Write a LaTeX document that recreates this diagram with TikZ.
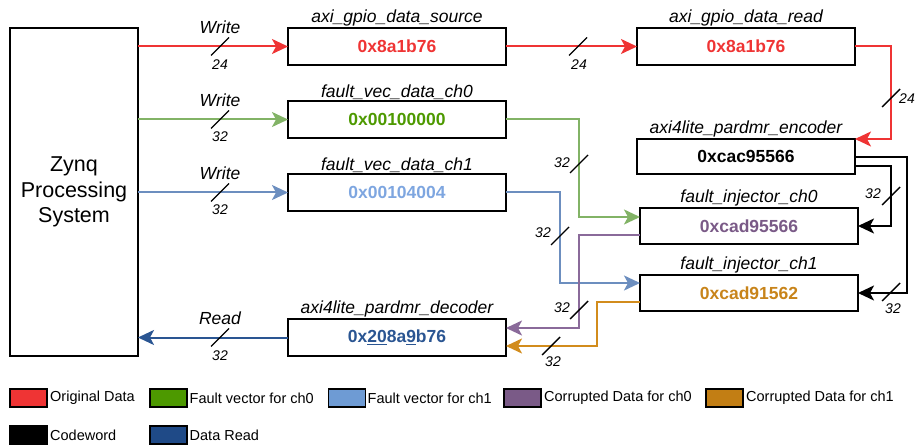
\documentclass[tikz,border=0pt]{standalone}
\usepackage{fontspec}
\setmainfont{Liberation Sans}
\usetikzlibrary{arrows.meta,calc}
\definecolor{cred}{HTML}{EF3434}
\definecolor{cgreenl}{HTML}{82B366}
\definecolor{cgreent}{HTML}{4D9900}
\definecolor{cbluel}{HTML}{6C8EBF}
\definecolor{cbluet}{HTML}{7EA6E0}
\definecolor{cbluesw}{HTML}{6E9BD4}
\definecolor{cpurpl}{HTML}{8A6A9A}
\definecolor{cpurpt}{HTML}{7A5A87}
\definecolor{corgl}{HTML}{D28C1C}
\definecolor{corgt}{HTML}{C8841A}
\definecolor{corgsw}{HTML}{C27E14}
\definecolor{cdblue}{HTML}{2A5592}
\definecolor{cdbluet}{HTML}{1F4A87}
\begin{document}
\begin{tikzpicture}[x=1pt,y=-1pt,
  box/.style={draw=black,line width=2pt,minimum width=218pt,minimum height=37pt,inner sep=0pt,outer sep=0pt,
    font=\fontsize{17.5}{20}\selectfont\bfseries},
  ttl/.style={anchor=south,inner sep=1.5pt,font=\fontsize{17.5}{20}\selectfont\itshape},
  lbl/.style={inner sep=0pt,font=\fontsize{17.5}{20}\selectfont\itshape},
  num/.style={inner sep=0pt,font=\fontsize{14}{16}\selectfont\itshape},
  conn/.style={line width=2pt,-{Stealth[length=16pt,width=15pt,inset=4pt]}},
  busmark/.pic={\draw[black,line width=1.4pt] (-9,9) -- (9,-9);},
  sw/.style={draw=black,line width=1.8pt,minimum width=37pt,minimum height=18pt,inner sep=0pt},
  leg/.style={anchor=west,inner sep=0pt,font=\fontsize{14.5}{16}\selectfont}
]
\useasboundingbox (0,0) rectangle (917,446);

% Boxes
\node[draw=black,line width=2pt,minimum width=128pt,minimum height=328pt,inner sep=0pt,outer sep=0pt,
  align=center,font=\fontsize{21.5}{25.7}\selectfont] (zynq) at (74,192) {Zynq\\Processing\\System};
\node[box,text=cred] (src) at (397,46.5) {0x8a1b76};
\node[box,text=cred] (rd) at (746,46.5) {0x8a1b76};
\node[box,minimum height=35pt] (enc) at (746,156.5) {0xcac95566};
\node[box,text=cgreent] (fv0) at (397,119.5) {0x00100000};
\node[box,text=cbluet] (fv1) at (397,192.5) {0x00104004};
\node[box,minimum height=36pt,text=cpurpt] (fi0) at (749,226) {0xcad95566};
\node[box,minimum height=36pt,text=corgt] (fi1) at (749,293) {0xcad91562};
\node[box,text=cdblue] (dec) at (397,337.5) {0x\underline{20}8a\underline{9}b76};

% Titles
\node[ttl] at (src.north) {axi\_gpio\_data\_source};
\node[ttl] at (rd.north) {axi\_gpio\_data\_read};
\node[ttl] at (enc.north) {axi4lite\_pardmr\_encoder};
\node[ttl] at (fv0.north) {fault\_vec\_data\_ch0};
\node[ttl] at (fv1.north) {fault\_vec\_data\_ch1};
\node[ttl] at (fi0.north) {fault\_injector\_ch0};
\node[ttl] at (fi1.north) {fault\_injector\_ch1};
\node[ttl] at (dec.north) {axi4lite\_pardmr\_decoder};

% Connectors from Zynq
\draw[conn,cred] (src.west -| zynq.east) -- (src.west);
\draw[conn,cgreenl] (fv0.west -| zynq.east) -- (fv0.west);
\draw[conn,cbluel] (fv1.west -| zynq.east) -- (fv1.west);
\draw[conn,cdblue] (dec.west) -- (dec.west -| zynq.east);
\pic at (220,46.5) {busmark}; \node[lbl] at (220,27) {Write}; \node[num] at (220,65) {24};
\pic at (220,119.5) {busmark}; \node[lbl] at (220,100) {Write}; \node[num] at (220,137) {32};
\pic at (220,192.5) {busmark}; \node[lbl] at (220,173) {Write}; \node[num] at (220,210) {32};
\pic at (220,337.5) {busmark}; \node[lbl] at (220,318) {Read}; \node[num] at (220,356) {32};

% src -> rd
\draw[conn,cred] (src.east) -- (rd.west);
\pic at (578,46.5) {busmark}; \node[num] at (579,65) {24};

% rd -> enc
\coordinate (rdR) at ($(rd.east)+(36,0)$);
\draw[conn,cred] (rd.east) -- (rdR) |- (enc.north east);
\pic at (891,98) {busmark}; \node[num] at (907,99) {24};

% enc -> fi1 and fi0
\coordinate (encA) at ($(enc.east)+(0,0.5)$);
\coordinate (encB) at ($(enc.east)+(0,9.5)$);
\coordinate (blkA) at ($(encA)+(52,0)$);
\coordinate (blkB) at ($(encB)+(36,0)$);
\draw[conn,black] (encA) -- (blkA) |- (fi1.east);
\draw[conn,black] (encB) -- (blkB) |- (fi0.east);
\pic at (891,196) {busmark}; \node[num] at (873,194) {32};
\pic at (891,292) {busmark}; \node[num] at (893,309) {32};

% fv0 -> fi0
\coordinate (fi0in) at ($(fi0.west)+(0,-9)$);
\coordinate (gX) at (579,119.5);
\draw[conn,cgreenl] (fv0.east) -- (gX) |- (fi0in);
\pic at (579,164) {busmark}; \node[num] at (562,163) {32};

% fv1 -> fi1
\coordinate (fi1in) at ($(fi1.west)+(0,-10)$);
\coordinate (bX) at (560,192.5);
\draw[conn,cbluel] (fv1.east) -- (bX) |- (fi1in);
\pic at (560,236) {busmark}; \node[num] at (543,233) {32};

% fi0 -> dec (purple)
\coordinate (fi0out) at ($(fi0.west)+(0,9)$);
\coordinate (decinA) at ($(dec.east)+(0,-9.5)$);
\coordinate (pX) at (579,235);
\draw[conn,cpurpl] (fi0out) -- (pX) |- (decinA);
\pic at (579,310) {busmark}; \node[num] at (562,308) {32};

% fi1 -> dec (orange)
\coordinate (fi1out) at ($(fi1.west)+(0,9)$);
\coordinate (decinB) at ($(dec.east)+(0,8.5)$);
\coordinate (oX) at (597,302);
\draw[conn,corgl] (fi1out) -- (oX) |- (decinB);
\pic at (551,346) {busmark}; \node[num] at (553,362) {32};

% Legend
\node[sw,fill=cred] (l1) at (28.5,398) {}; \node[leg] at (50,398) {Original Data};
\node[sw,fill=cgreent] (l2) at (168.5,398) {}; \node[leg] at (189.5,398) {Fault vector for ch0};
\node[sw,fill=cbluesw] (l3) at (347,398) {}; \node[leg] at (367.5,398) {Fault vector for ch1};
\node[sw,fill=cpurpt] (l4) at (522.5,398) {}; \node[leg] at (544,398) {Corrupted Data for ch0};
\node[sw,fill=corgsw] (l5) at (724.5,398) {}; \node[leg] at (746,398) {Corrupted Data for ch1};
\node[sw,fill=black] (l6) at (28.5,435) {}; \node[leg] at (50,435) {Codeword};
\node[sw,fill=cdbluet] (l7) at (168.5,435) {}; \node[leg] at (189.5,435) {Data Read};
\end{tikzpicture}
\end{document}
